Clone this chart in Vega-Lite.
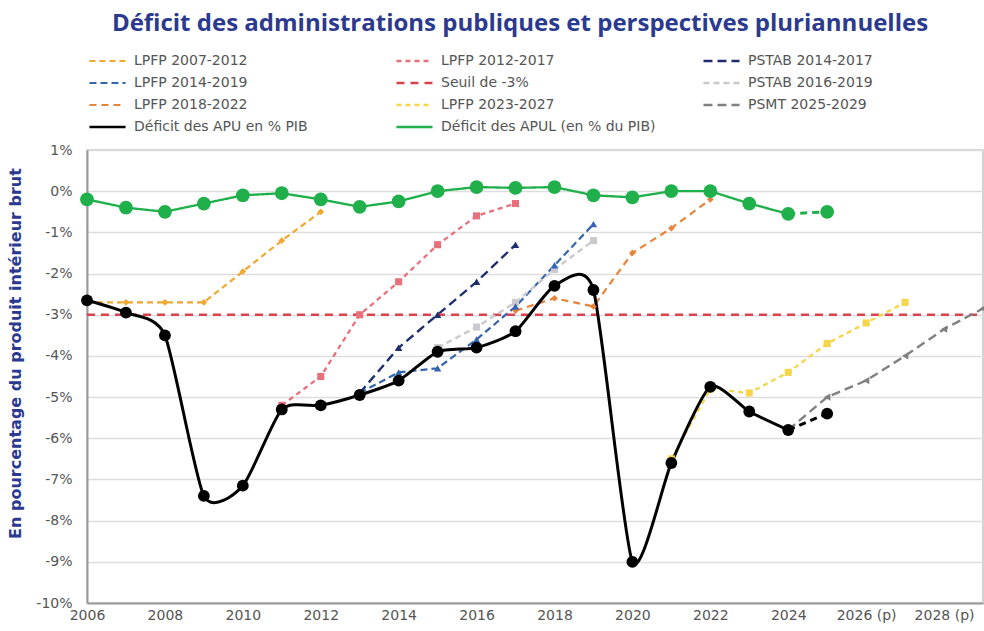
{
  "$schema": "https://vega.github.io/schema/vega-lite/v6.json",
  "autosize": {"type": "none"},
  "padding": {"left": 87, "top": 150, "right": 1, "bottom": 28},
  "width": 896,
  "height": 453,
  "background": "white",
  "config": {
    "font": "DejaVu Sans",
    "view": {"stroke": "#c4c4c4", "strokeWidth": 1.5}
  },
  "title": {
    "text": "Déficit des administrations publiques et perspectives pluriannuelles",
    "frame": "group",
    "anchor": "middle",
    "dx": -15,
    "offset": 17,
    "fontSize": 24,
    "fontWeight": "bold",
    "color": "#2B3A8F",
    "font": "Open Sans"
  },
  "data": {
    "values": [
      {"s": "LPFP 2007-2012", "x": 2006, "y": -2.7},
      {"s": "LPFP 2007-2012", "x": 2007, "y": -2.7},
      {"s": "LPFP 2007-2012", "x": 2008, "y": -2.7},
      {"s": "LPFP 2007-2012", "x": 2009, "y": -2.7},
      {"s": "LPFP 2007-2012", "x": 2010, "y": -1.95},
      {"s": "LPFP 2007-2012", "x": 2011, "y": -1.2},
      {"s": "LPFP 2007-2012", "x": 2012, "y": -0.5},
      {"s": "LPFP 2012-2017", "x": 2011, "y": -5.2},
      {"s": "LPFP 2012-2017", "x": 2012, "y": -4.5},
      {"s": "LPFP 2012-2017", "x": 2013, "y": -3.0},
      {"s": "LPFP 2012-2017", "x": 2014, "y": -2.2},
      {"s": "LPFP 2012-2017", "x": 2015, "y": -1.3},
      {"s": "LPFP 2012-2017", "x": 2016, "y": -0.6},
      {"s": "LPFP 2012-2017", "x": 2017, "y": -0.3},
      {"s": "PSTAB 2014-2017", "x": 2013, "y": -4.9},
      {"s": "PSTAB 2014-2017", "x": 2014, "y": -3.8},
      {"s": "PSTAB 2014-2017", "x": 2015, "y": -3.0},
      {"s": "PSTAB 2014-2017", "x": 2016, "y": -2.2},
      {"s": "PSTAB 2014-2017", "x": 2017, "y": -1.3},
      {"s": "LPFP 2014-2019", "x": 2013, "y": -4.9},
      {"s": "LPFP 2014-2019", "x": 2014, "y": -4.4},
      {"s": "LPFP 2014-2019", "x": 2015, "y": -4.3},
      {"s": "LPFP 2014-2019", "x": 2016, "y": -3.6},
      {"s": "LPFP 2014-2019", "x": 2017, "y": -2.8},
      {"s": "LPFP 2014-2019", "x": 2018, "y": -1.8},
      {"s": "LPFP 2014-2019", "x": 2019, "y": -0.8},
      {"s": "Seuil de -3%", "x": 2006, "y": -3.0},
      {"s": "Seuil de -3%", "x": 2029, "y": -3.0},
      {"s": "PSTAB 2016-2019", "x": 2015, "y": -3.8},
      {"s": "PSTAB 2016-2019", "x": 2016, "y": -3.3},
      {"s": "PSTAB 2016-2019", "x": 2017, "y": -2.7},
      {"s": "PSTAB 2016-2019", "x": 2018, "y": -1.9},
      {"s": "PSTAB 2016-2019", "x": 2019, "y": -1.2},
      {"s": "LPFP 2018-2022", "x": 2017, "y": -2.9},
      {"s": "LPFP 2018-2022", "x": 2018, "y": -2.6},
      {"s": "LPFP 2018-2022", "x": 2019, "y": -2.8},
      {"s": "LPFP 2018-2022", "x": 2020, "y": -1.5},
      {"s": "LPFP 2018-2022", "x": 2021, "y": -0.9},
      {"s": "LPFP 2018-2022", "x": 2022, "y": -0.2},
      {"s": "LPFP 2023-2027", "x": 2021, "y": -6.5},
      {"s": "LPFP 2023-2027", "x": 2022, "y": -4.8},
      {"s": "LPFP 2023-2027", "x": 2023, "y": -4.9},
      {"s": "LPFP 2023-2027", "x": 2024, "y": -4.4},
      {"s": "LPFP 2023-2027", "x": 2025, "y": -3.7},
      {"s": "LPFP 2023-2027", "x": 2026, "y": -3.2},
      {"s": "LPFP 2023-2027", "x": 2027, "y": -2.7},
      {"s": "PSMT 2025-2029", "x": 2024, "y": -5.8},
      {"s": "PSMT 2025-2029", "x": 2025, "y": -5.0},
      {"s": "PSMT 2025-2029", "x": 2026, "y": -4.6},
      {"s": "PSMT 2025-2029", "x": 2027, "y": -4.0},
      {"s": "PSMT 2025-2029", "x": 2028, "y": -3.35},
      {"s": "PSMT 2025-2029", "x": 2029, "y": -2.85},
      {"s": "Déficit des APU en % PIB", "x": 2006, "y": -2.65},
      {"s": "Déficit des APU en % PIB", "x": 2007, "y": -2.95},
      {"s": "Déficit des APU en % PIB", "x": 2008, "y": -3.5},
      {"s": "Déficit des APU en % PIB", "x": 2009, "y": -7.4},
      {"s": "Déficit des APU en % PIB", "x": 2010, "y": -7.15},
      {"s": "Déficit des APU en % PIB", "x": 2011, "y": -5.3},
      {"s": "Déficit des APU en % PIB", "x": 2012, "y": -5.2},
      {"s": "Déficit des APU en % PIB", "x": 2013, "y": -4.95},
      {"s": "Déficit des APU en % PIB", "x": 2014, "y": -4.6},
      {"s": "Déficit des APU en % PIB", "x": 2015, "y": -3.9},
      {"s": "Déficit des APU en % PIB", "x": 2016, "y": -3.8},
      {"s": "Déficit des APU en % PIB", "x": 2017, "y": -3.4},
      {"s": "Déficit des APU en % PIB", "x": 2018, "y": -2.3},
      {"s": "Déficit des APU en % PIB", "x": 2019, "y": -2.4},
      {"s": "Déficit des APU en % PIB", "x": 2020, "y": -9.0},
      {"s": "Déficit des APU en % PIB", "x": 2021, "y": -6.6},
      {"s": "Déficit des APU en % PIB", "x": 2022, "y": -4.75},
      {"s": "Déficit des APU en % PIB", "x": 2023, "y": -5.35},
      {"s": "Déficit des APU en % PIB", "x": 2024, "y": -5.8},
      {"s": "Déficit des APU en % PIB", "x": 2025, "y": -5.4},
      {"s": "Déficit des APUL (en % du PIB)", "x": 2006, "y": -0.2},
      {"s": "Déficit des APUL (en % du PIB)", "x": 2007, "y": -0.4},
      {"s": "Déficit des APUL (en % du PIB)", "x": 2008, "y": -0.5},
      {"s": "Déficit des APUL (en % du PIB)", "x": 2009, "y": -0.3},
      {"s": "Déficit des APUL (en % du PIB)", "x": 2010, "y": -0.1},
      {"s": "Déficit des APUL (en % du PIB)", "x": 2011, "y": -0.05},
      {"s": "Déficit des APUL (en % du PIB)", "x": 2012, "y": -0.2},
      {"s": "Déficit des APUL (en % du PIB)", "x": 2013, "y": -0.38},
      {"s": "Déficit des APUL (en % du PIB)", "x": 2014, "y": -0.25},
      {"s": "Déficit des APUL (en % du PIB)", "x": 2015, "y": 0.0},
      {"s": "Déficit des APUL (en % du PIB)", "x": 2016, "y": 0.1},
      {"s": "Déficit des APUL (en % du PIB)", "x": 2017, "y": 0.08},
      {"s": "Déficit des APUL (en % du PIB)", "x": 2018, "y": 0.1},
      {"s": "Déficit des APUL (en % du PIB)", "x": 2019, "y": -0.1},
      {"s": "Déficit des APUL (en % du PIB)", "x": 2020, "y": -0.15},
      {"s": "Déficit des APUL (en % du PIB)", "x": 2021, "y": 0.0},
      {"s": "Déficit des APUL (en % du PIB)", "x": 2022, "y": 0.0},
      {"s": "Déficit des APUL (en % du PIB)", "x": 2023, "y": -0.3},
      {"s": "Déficit des APUL (en % du PIB)", "x": 2024, "y": -0.55},
      {"s": "Déficit des APUL (en % du PIB)", "x": 2025, "y": -0.5}
    ]
  },
  "encoding": {
    "x": {
      "field": "x", "type": "quantitative",
      "scale": {"domain": [2006, 2029], "nice": false, "zero": false},
      "axis": {
        "title": null,
        "values": [2006, 2008, 2010, 2012, 2014, 2016, 2018, 2020, 2022, 2024, 2026, 2028],
        "format": "d",
        "labelExpr": "datum.value >= 2026 ? datum.label + ' (p)' : datum.label",
        "grid": false,
        "ticks": false,
        "labelPadding": 5,
        "labelFontSize": 14,
        "labelColor": "#555555",
        "labelFlush": false,
        "domainColor": "#9a9a9a",
        "domainWidth": 2
      }
    },
    "y": {
      "field": "y", "type": "quantitative",
      "scale": {"domain": [-10, 1], "nice": false, "zero": false},
      "axis": {
        "title": "En pourcentage du produit intérieur brut",
        "titleFontSize": 16,
        "titleFontWeight": "bold",
        "titleColor": "#2B3A8F",
        "titlePadding": 12,
        "titleY": 203,
        "values": [-10, -9, -8, -7, -6, -5, -4, -3, -2, -1, 0, 1],
        "labelExpr": "datum.value + '%'",
        "ticks": false,
        "labelPadding": 15,
        "labelFontSize": 14,
        "labelColor": "#555555",
        "grid": true,
        "gridColor": "#dddddd",
        "gridWidth": 1.5,
        "domainColor": "#9a9a9a",
        "domainWidth": 2
      }
    }
  },
  "layer": [
    {
      "transform": [{"filter": "datum.s != 'Déficit des APU en % PIB' && !(datum.s == 'Déficit des APUL (en % du PIB)' && datum.x > 2024)"}],
      "mark": {"type": "line"},
      "encoding": {
        "color": {
          "field": "s", "type": "nominal",
          "scale": {
            "domain": ["LPFP 2007-2012", "LPFP 2014-2019", "LPFP 2018-2022", "Déficit des APU en % PIB", "LPFP 2012-2017", "Seuil de -3%", "LPFP 2023-2027", "Déficit des APUL (en % du PIB)", "PSTAB 2014-2017", "PSTAB 2016-2019", "PSMT 2025-2029"],
            "range": ["#F0A830", "#3565B0", "#E8843A", "#000000", "#E8707C", "#D9434F", "#F5D64A", "#1FAF4B", "#1F2D6E", "#C9C9CE", "#808080"]
          },
          "legend": {
            "title": null,
            "orient": "none",
            "legendX": 1,
            "legendY": -97,
            "columns": 3,
            "gridAlign": "all",
            "columnPadding": 46,
            "rowPadding": 6,
            "clipHeight": 16,
            "symbolType": "stroke",
            "symbolSize": 1300,
            "symbolStrokeWidth": 3,
            "labelOffset": 7,
            "labelFontSize": 14,
            "labelColor": "#555555",
            "labelLimit": 400
          }
        },
        "strokeDash": {
          "field": "s", "type": "nominal",
          "scale": {
            "domain": ["LPFP 2007-2012", "LPFP 2014-2019", "LPFP 2018-2022", "Déficit des APU en % PIB", "LPFP 2012-2017", "Seuil de -3%", "LPFP 2023-2027", "Déficit des APUL (en % du PIB)", "PSTAB 2014-2017", "PSTAB 2016-2019", "PSMT 2025-2029"],
            "range": [[6, 4], [7, 4], [7, 5], [1, 0], [5, 4], [8, 6], [5, 4], [1, 0], [9, 5], [6, 4], [9, 5]]
          },
          "legend": {
            "title": null,
            "orient": "none",
            "legendX": 1,
            "legendY": -97,
            "columns": 3,
            "gridAlign": "all",
            "columnPadding": 46,
            "rowPadding": 6,
            "clipHeight": 16,
            "symbolType": "stroke",
            "symbolSize": 1300,
            "symbolStrokeWidth": 3,
            "labelOffset": 7,
            "labelFontSize": 14,
            "labelColor": "#555555",
            "labelLimit": 400
          }
        },
        "strokeWidth": {
          "field": "s", "type": "nominal",
          "scale": {
            "domain": ["LPFP 2007-2012", "LPFP 2014-2019", "LPFP 2018-2022", "Déficit des APU en % PIB", "LPFP 2012-2017", "Seuil de -3%", "LPFP 2023-2027", "Déficit des APUL (en % du PIB)", "PSTAB 2014-2017", "PSTAB 2016-2019", "PSMT 2025-2029"],
            "range": [2.2, 2.4, 2.2, 3.5, 2.2, 2.2, 2.2, 3.5, 2.6, 2.2, 2.8]
          },
          "legend": null
        }
      }
    },
    {
      "transform": [{"filter": "datum.s == 'Déficit des APU en % PIB' && datum.x <= 2024"}],
      "mark": {"type": "line", "interpolate": "cardinal", "tension": 0.35, "strokeWidth": 3},
      "encoding": {
        "color": {"field": "s", "type": "nominal"}
      }
    },
    {
      "transform": [{"filter": "(datum.s == 'Déficit des APU en % PIB' || datum.s == 'Déficit des APUL (en % du PIB)') && datum.x >= 2024"}],
      "mark": {"type": "line", "strokeWidth": 3, "strokeDash": [7, 5]},
      "encoding": {
        "color": {"field": "s", "type": "nominal"}
      }
    },
    {
      "transform": [{"filter": "datum.s == 'LPFP 2007-2012' || datum.s == 'LPFP 2018-2022'"}],
      "mark": {"type": "point", "filled": true, "size": 45, "opacity": 1, "shape": "diamond"},
      "encoding": {"color": {"field": "s", "type": "nominal"}}
    },
    {
      "transform": [{"filter": "datum.s == 'LPFP 2012-2017' || datum.s == 'PSTAB 2016-2019' || datum.s == 'LPFP 2023-2027'"}],
      "mark": {"type": "point", "filled": true, "size": 50, "opacity": 1, "shape": "square"},
      "encoding": {"color": {"field": "s", "type": "nominal"}}
    },
    {
      "transform": [{"filter": "datum.s == 'PSTAB 2014-2017' || datum.s == 'LPFP 2014-2019'"}],
      "mark": {"type": "point", "filled": true, "size": 55, "opacity": 1, "shape": "triangle-up"},
      "encoding": {"color": {"field": "s", "type": "nominal"}}
    },
    {
      "transform": [{"filter": "datum.s == 'PSMT 2025-2029'"}],
      "mark": {"type": "point", "filled": true, "size": 55, "opacity": 1, "shape": "triangle-left"},
      "encoding": {"color": {"field": "s", "type": "nominal"}}
    },
    {
      "transform": [{"filter": "datum.s == 'Déficit des APU en % PIB'"}],
      "mark": {"type": "circle", "opacity": 1, "size": 140},
      "encoding": {"color": {"field": "s", "type": "nominal"}}
    },
    {
      "transform": [{"filter": "datum.s == 'Déficit des APUL (en % du PIB)'"}],
      "mark": {"type": "circle", "opacity": 1, "size": 190},
      "encoding": {"color": {"field": "s", "type": "nominal"}}
    }
  ]
}
